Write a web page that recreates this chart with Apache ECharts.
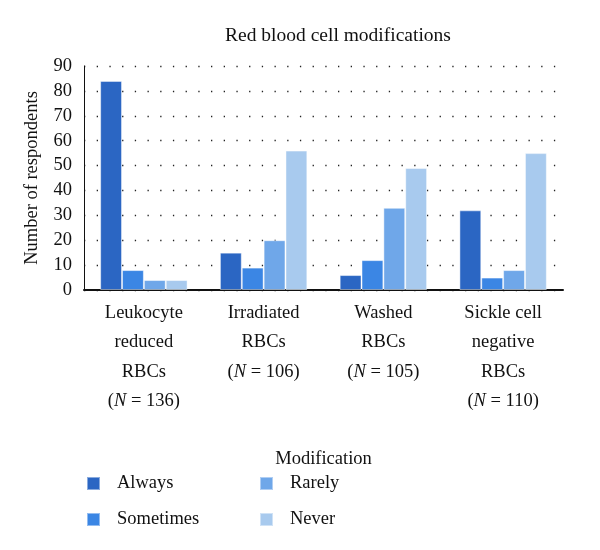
<!DOCTYPE html>
<html><head><meta charset="utf-8">
<script src="https://cdn.jsdelivr.net/npm/echarts@6/dist/echarts.min.js"></script>
<style>html,body{margin:0;padding:0;background:#fff}#c{width:600px;height:550px}</style>
</head><body><div id="c"></div>
<script>
const categories = ["Leukocyte\nreduced\nRBCs", "Irradiated\nRBCs", "Washed\nRBCs", "Sickle cell\nnegative\nRBCs"];
const nValues = [136, 106, 105, 110];
const seriesNames = ["Always", "Sometimes", "Rarely", "Never"];
const always = [84, 15, 6, 32];
const sometimes = [8, 9, 12, 5];
const rarely = [4, 20, 33, 8];
const never = [4, 56, 49, 55];
const yTicks = [0, 10, 20, 30, 40, 50, 60, 70, 80, 90];
const colors = ["#2b66c3", "#3b86e4", "#6fa7e9", "#a8caee"];
const font = "Liberation Serif";
const fs = 18.5;

const chart = echarts.init(document.getElementById('c'), null, {renderer: 'canvas'});
const seriesData = [always, sometimes, rarely, never];
const labels = categories.map((c, i) => c + "\n({i|N} = " + nValues[i] + ")");
chart.setOption({
  animation: false,
  textStyle: {fontFamily: font, color: '#111'},
  title: {text: "Red blood cell modifications", left: 333, textAlign: 'center', top: 21,
    textStyle: {fontFamily: font, fontSize: 19.5, fontWeight: 'normal', color: '#111'}},
  legend: [
    {data: ["Always", "Sometimes"], orient: 'vertical', left: 81, top: 469, itemWidth: 13, itemHeight: 13, itemGap: 17,
      icon: 'rect', textStyle: {fontFamily: font, fontSize: fs, color: '#111', padding: [0, 0, 0, 12]}},
    {data: ["Rarely", "Never"], orient: 'vertical', left: 254, top: 469, itemWidth: 13, itemHeight: 13, itemGap: 17,
      icon: 'rect', textStyle: {fontFamily: font, fontSize: fs, color: '#111', padding: [0, 0, 0, 12]}}
  ],
  grid: {left: 84, right: 37, top: 66, bottom: 260, containLabel: false},
  xAxis: {
    type: 'category', data: labels,
    name: "Modification", nameLocation: 'middle', nameGap: 160,
    nameTextStyle: {fontFamily: font, fontSize: fs, color: '#111'},
    axisLine: {lineStyle: {color: '#111', width: 2}},
    axisTick: {show: false},
    axisLabel: {fontFamily: font, fontSize: fs, color: '#111', lineHeight: 29.5, margin: 8, interval: 0,
      rich: {i: {fontFamily: font, fontSize: fs, fontStyle: 'italic', color: '#111', lineHeight: 29.5}}}
  },
  yAxis: {
    type: 'value', min: 0, max: 90, interval: 10,
    name: "Number of respondents", nameLocation: 'middle', nameGap: 42, nameRotate: 90,
    nameTextStyle: {fontFamily: font, fontSize: fs, color: '#111'},
    axisLine: {show: true, lineStyle: {color: '#111', width: 1}},
    axisTick: {show: false},
    axisLabel: {fontFamily: font, fontSize: fs, color: '#111', margin: 12,
      formatter: v => yTicks.includes(v) ? String(v) : ''},
    splitLine: {show: true, lineStyle: {color: '#222', width: 1.3, type: [1.3, 11.4]}}
  },
  series: seriesNames.map((n, k) => ({
    name: n, type: 'bar', data: seriesData[k],
    barGap: '0%', barCategoryGap: '27%',
    itemStyle: {color: colors[k], borderColor: 'rgba(255,255,255,0.45)', borderWidth: 1}
  })),
  color: colors
});
</script></body></html>
